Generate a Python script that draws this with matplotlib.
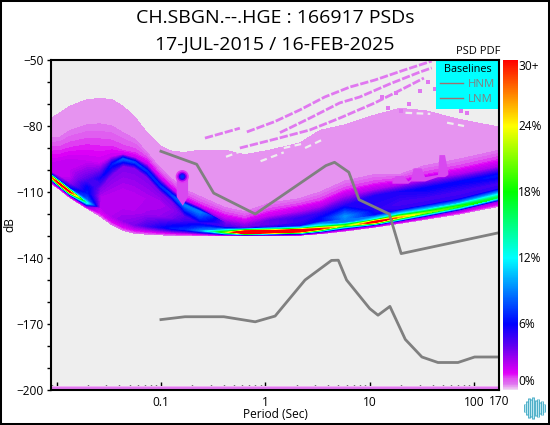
import matplotlib
matplotlib.use('Agg')
import matplotlib.pyplot as plt
import numpy as np
from matplotlib.colors import LinearSegmentedColormap, Normalize
from matplotlib.cm import ScalarMappable
from matplotlib.lines import Line2D
from matplotlib.patches import Rectangle

plt.rcParams['font.family'] = ['Open Sans', 'DejaVu Sans']

# period of each column of the PDF mesh
periods = [.00885, .0108, .01345, .0196, .0261, .034, .0433, .0564, .0735, .0978, .127, .170,
           .236, .409, .637, 1.10, 2.14, 3.33, 5.77, 11.2, 19.4, 33.6, 72.6, 173]

# dB of the mesh nodes, one row per column, top edge first
node_db = [
    [-76.5, -85.5, -91, -97, -99, -100, -101, -101.8, -103.2, -104.6, -106],
    [-74, -85, -91, -96, -99, -101, -103, -105, -106.5, -108, -109],
    [-71, -82, -89.5, -95, -100, -103, -106, -108.5, -110, -111.6, -112.6],
    [-68, -79.5, -88, -96, -104, -108, -111, -113.5, -115, -116.5, -117.5],
    [-67.5, -79, -88.6, -97, -104, -108, -112, -114, -117, -119.5, -121],
    [-68, -80, -89, -94, -97.5, -102, -110, -116, -121, -123.5, -125],
    [-71, -83, -91, -93, -95, -98, -108, -118, -123, -126, -127.5],
    [-76, -86, -92, -94.5, -96.5, -99, -110, -119, -125, -127.5, -128.8],
    [-83, -92, -95, -97.5, -100.5, -103, -113, -120, -125.5, -128, -129.2],
    [-89, -99, -102, -104, -107, -109.5, -115, -121, -126, -128.5, -129.5],
    [-91.5, -104, -107, -109, -111.5, -114, -118, -122, -126.5, -128.8, -129.7],
    [-92, -109, -112, -114, -116, -119, -121, -124, -127, -129, -130],
    [-91, -112, -115.5, -117, -119, -122, -124, -126, -127.6, -129.2, -130],
    [-91, -117, -120, -122, -124, -125, -126, -127, -128.3, -129.4, -130],
    [-93, -119, -122, -123.5, -125, -126, -126.5, -127.2, -128.4, -129.4, -130],
    [-91, -115, -118.5, -121, -123, -125, -126, -127, -128.2, -129.2, -130],
    [-87.7, -113, -116, -119, -122, -124, -125.5, -126.5, -127.6, -129, -129.7],
    [-82, -110, -114, -117, -120, -122, -123.5, -125.5, -126.8, -128.2, -129],
    [-79.5, -105, -109, -112, -116, -121, -122.5, -124, -125.3, -126.8, -127.8],
    [-75, -102, -106, -109, -112, -118, -120.5, -122.5, -123.6, -125, -126],
    [-72, -102, -104.5, -107, -110, -115, -118, -120, -121.5, -123.2, -124.3],
    [-73, -98, -102, -104.5, -108.5, -113, -116, -118, -119.5, -121.2, -122.5],
    [-77, -95, -99, -102, -105.5, -110, -113, -115, -116.5, -118.2, -120],
    [-80.5, -91, -95, -98.5, -102.5, -106, -108.5, -110.5, -112.3, -114, -116.5],
]

# PDF percent at the same nodes
node_pct = [
    [.5, .5, 1.2, 2, 2.2, 2.2, 2.2, 5, 26, 4, .5],
    [.5, .5, 1.2, 2, 2.2, 2.2, 2.2, 5, 32, 3, .5],
    [.5, .5, 1.2, 2, 2.2, 2.2, 3, 6, 30, 3, .5],
    [.5, .5, 1.2, 2, 4, 6, 6.5, 8, 12, 3, .5],
    [.5, .5, 1.2, 2, 5.5, 3.5, 2.5, 2.5, 2.2, 1.5, .5],
    [.5, .5, 1.2, 2, 6.5, 3.5, 2.5, 2.5, 2.5, 1.5, .5],
    [.5, .5, 1.2, 2, 8, 3.5, 2.5, 2.5, 3, 1.5, .5],
    [.5, .5, 1.2, 2, 7.5, 3.5, 2.5, 2.5, 3.5, 1.5, .5],
    [.5, .5, 1.2, 2, 7, 3.5, 2.5, 2.8, 4.5, 1.5, .5],
    [.5, .5, 1.2, 2, 7, 3.5, 2.5, 3, 5.5, 1.5, .5],
    [.5, .5, 1.2, 2, 7.5, 3.5, 3, 3.5, 6.5, 1.5, .5],
    [.5, .5, 1.2, 2, 9, 6, 4, 5, 7, 1.5, .5],
    [.5, .5, 1.2, 2, 9, 7, 5, 7, 9, 1.5, .5],
    [.5, .5, 1.2, 2, 3.5, 4, 4.5, 9, 20, 3, .5],
    [.5, .5, 1.2, 2, 3, 3.5, 4.5, 16, 46, 6, .5],
    [.5, .5, 1.2, 2, 4, 4, 5, 16, 42, 6, .5],
    [.5, .5, 1.2, 2.5, 5, 5, 5.5, 14, 42, 6, .5],
    [.5, .5, 1.2, 2.5, 5, 6, 6, 13, 30, 4, .5],
    [.5, .5, 1.2, 2.5, 5, 9.5, 9, 9, 20, 3, .5],
    [.5, .5, 1.2, 2.5, 5.5, 5, 6, 13, 34, 4, .5],
    [.5, .5, 1.2, 2.5, 5.5, 4.5, 5, 12, 26, 3, .5],
    [.5, .5, 1.2, 2.5, 6, 4.5, 5, 11, 21, 3, .5],
    [.5, .5, 1.2, 2.5, 6, 4.5, 5, 10, 19, 3, .5],
    [.5, .5, 1.2, 2.5, 6.5, 4.5, 5, 10, 16, 3, .5],
]

# sparse streaks above the solid part of the PDF
streak_p = [.264, .57, np.nan,
            .665, 1.23, 2.14, 3.71, 6.44, 11.2, 21.6, 39.2, np.nan,
            1.38, 1.71, 2.67, 5.16, 8.03, 15.5, 30.1, 39.2, np.nan,
            .57, 1.23, 2.67, 5.16, 11.2, 21.6, 33]
streak_db = [-85.5, -81, np.nan,
             -82.7, -78, -72.7, -66.8, -62.3, -59.1, -54.5, -50.5, np.nan,
             -83, -80.9, -76.4, -69.5, -66.8, -60.9, -55.5, -53.6, np.nan,
             -90, -86, -81.8, -76.4, -69.5, -62.7, -58.2]
gap_p = [.42, .62, np.nan, .9, 1.5, np.nan, 1.5, 2.3, np.nan, 2.4, 3.6, np.nan, 22, 38, np.nan, 55, 80]
gap_db = [-94, -91, np.nan, -96, -92, np.nan, -90, -88, np.nan, -90, -86, np.nan, -74, -74.5, np.nan, -78.5, -80]
speck_p = [13, 15, 18, 24, 30, 42, 50, 62, 75, 95, 20, 36, 48, 85]
speck_db = [-67, -72, -65, -70, -64, -63, -70, -66, -73, -71, -73, -60, -61, -74]

# magenta bumps in the upper edge of the band, long period side
bump_p = [16.3, 17.5, 21, 23.2, 24.7, 26, 31, 33.6, 44.6, 46, 52, 56]
bump_top = [-105, -102.5, -102.5, -105, -104, -99, -99, -103, -102, -93, -93, -101]
bump_low = [-106, -106, -106, -106, -105, -105, -105, -105, -103, -103, -103, -102]

# blob near 0.16 s
blob_p = [.16, .16, .16, .16]
blob_db = [-103, -103, -103, -103]
blob_pct = [1.2, 2.5, 5, 7]
blob_size = [90, 50, 25, 8]
blob_tail_p = [.14, .16, .18]
blob_tail_top = [-103, -103, -103]
blob_tail_low = [-112, -116, -112]

# Peterson noise models
hnm_p = [.1, .22, .32, .8, 3.8, 4.6, 6.3, 7.9, 15.4, 20, 173]
hnm_db = [-91.5, -97.4, -110.5, -120, -98, -96.5, -101, -113.5, -120, -138, -128.5]
lnm_p = [.1, .17, .4, .8, 1.24, 2.4, 4.3, 5, 6, 10, 12, 15.6, 21.9, 31.6, 45, 70, 101, 154, 173]
lnm_db = [-168, -166.7, -166.7, -169, -166.4, -150, -141.1, -141, -150, -163, -166, -162, -177, -185, -187.5,
          -187.5, -185, -185, -185]

# colour scale
cbar_pct = [0, .3, .5, 1, 1.5, 2.5, 4, 6, 9, 12, 15, 18, 24, 27, 30]
cbar_colors = ['#F0D8F4', '#E89CF0', '#E078F0', '#E050F0', '#E000F8', '#B000F0', '#6000F0', '#0000FF',
               '#0080FF', '#00FFFF', '#00FF80', '#00FF00', '#FFFF00', '#FF8000', '#FF0000']
cbar_ticks = [0, 6, 12, 18, 24, 30]
cbar_labels = ['0%', '6%', '12%', '18%', '24%', '30+']

logo_heights = [9, 15, 21, 19, 23, 17, 20, 13, 16, 9]

W, H = 550, 425
fig = plt.figure(figsize=(W / 100, H / 100), dpi=100, facecolor='white')
ax = fig.add_axes([51 / W, 1 - 390 / H, 448 / W, 330 / H])
ax.set_facecolor('#EEEEEE')

cmap = LinearSegmentedColormap.from_list('pdf', [(p / 30, c) for p, c in zip(cbar_pct, cbar_colors)], N=512)
norm = Normalize(0, 30)

X = np.tile(np.array(periods)[:, None], (1, len(node_db[0])))
ax.set_xscale('log')
levels = np.arange(.25, 30.26, .25)
ax.contourf(X, np.array(node_db), np.array(node_pct), levels=levels, cmap=cmap, norm=norm, extend='max', zorder=2)

ax.plot(streak_p, streak_db, color='#E078F0', lw=2, ls=(0, (3, .7)), zorder=2)
ax.plot(gap_p, gap_db, color='#EEEEEE', lw=1.6, ls=(0, (3, 2)), zorder=2.2)
ax.scatter(speck_p, speck_db, s=8, marker='s', color='#E078F0', lw=0, zorder=2)
ax.fill_between(bump_p, bump_low, bump_top, color='#D848F0', lw=0, zorder=2.1)
ax.fill_between(blob_tail_p, blob_tail_low, blob_tail_top, color='#D848F0', lw=0, zorder=2.2)
ax.scatter(blob_p, blob_db, s=blob_size, c=blob_pct, cmap=cmap, norm=norm, lw=0, zorder=2.3)
ax.fill_between([.005, 300], -198, -200, color='#EEB0F4', lw=0, zorder=2)
ax.fill_between([.005, 300], -198.5, -200, color='#E078F0', lw=0, zorder=2)

ax.plot(hnm_p, hnm_db, color='#808080', lw=2, zorder=3)
ax.plot(lnm_p, lnm_db, color='#808080', lw=2, zorder=3)

ax.set_xlim(.00885, 173)
ax.set_ylim(-200, -50)
ax.set_xticks([.01, .1, 1, 10, 100])
ax.set_xticklabels(['', '0.1', '1', '10', '100'])
ax.xaxis.set_minor_locator(matplotlib.ticker.LogLocator(base=10, subs=range(2, 10), numticks=12))
ax.xaxis.set_minor_formatter(matplotlib.ticker.NullFormatter())
ax.tick_params(axis='x', which='major', direction='in', length=6, width=1, labelsize=8.6, pad=4.5, colors='black')
ax.tick_params(axis='x', which='minor', direction='in', length=3.5, width=1)
ax.set_yticks(np.arange(-200, -49, 30))
ax.set_yticks(np.arange(-200, -49, 10), minor=True)
ax.tick_params(axis='y', which='both', direction='out', length=3, width=1, labelsize=8.6, pad=2.5)
for sp in ax.spines.values():
    sp.set_linewidth(1.5)
    sp.set_zorder(5)
ax.text(172, -202.4, '170', ha='center', va='top', fontsize=8.6, color='black')
ax.set_xlabel('Period (Sec)', fontsize=8.6, labelpad=-1)
ax.set_ylabel('dB', fontsize=8.6, labelpad=0)

handles = [Line2D([], [], color='#A07070', lw=1), Line2D([], [], color='#A07070', lw=1)]
leg = ax.legend(handles, ['HNM', 'LNM'], title='Baselines', loc='upper right', fontsize=8.2, title_fontsize=7.8,
                facecolor='#00FFFF', edgecolor='none', framealpha=1, fancybox=False, borderaxespad=0,
                labelcolor='#808080', handlelength=2, handletextpad=.4, labelspacing=.35,
                borderpad=.35)
leg.set_zorder(4)

cax = fig.add_axes([503 / W, 1 - 390 / H, 15 / W, 330 / H])
cb = fig.colorbar(ScalarMappable(norm=norm, cmap=cmap), cax=cax)
cb.outline.set_visible(False)
cb.set_ticks([])
cb.ax.minorticks_off()
for t, lab in zip(cbar_ticks, cbar_labels):
    pos = t
    if t == 30:
        pos = 29.45
    if t == 0:
        pos = .75
    cax.text(1.02, pos, lab, transform=cax.get_yaxis_transform(), ha='left', va='center', fontsize=8.6, color='black')

fig.text(275 / W, 1 - 18 / H, 'CH.SBGN.--.HGE : 166917 PSDs', ha='center', va='center', fontsize=14)
fig.text(275 / W, 1 - 45 / H, '17-JUL-2015 / 16-FEB-2025', ha='center', va='center', fontsize=14)
fig.text(478 / W, 1 - 52 / H, 'PSD PDF', ha='center', va='center', fontsize=8)

lax = fig.add_axes([523 / W, 1 - 420 / H, 23 / W, 24 / H])
lax.axis('off')
lax.set_xlim(-.8, len(logo_heights) - .2)
lax.set_ylim(-13, 13)
xs = np.arange(len(logo_heights))
hs = np.array(logo_heights) / 2
lax.vlines(xs, -hs, hs, color='#3FA9C4', lw=2)
lax.vlines(xs, -hs + .6, hs - .6, color='#BDE6F0', lw=.8)

fig.add_artist(Rectangle((0, 0), 1, 1, transform=fig.transFigure, fill=False, ec='black', lw=2.9))

fig.savefig('out.png', dpi=100)
